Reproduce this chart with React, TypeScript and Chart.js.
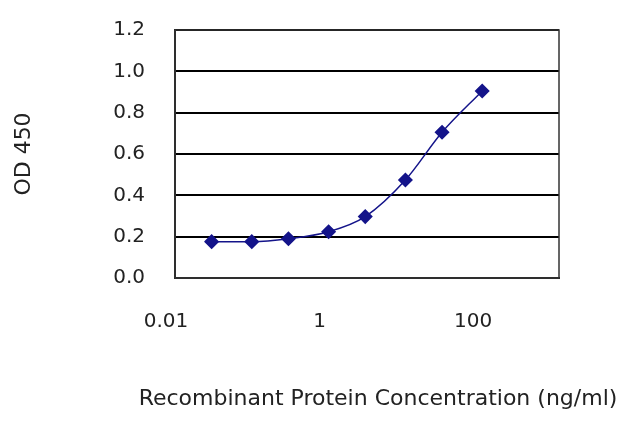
import { useEffect, useRef } from "react"
import { Chart, registerables } from "chart.js"

Chart.register(...registerables)

// concentration (ng/ml) and OD 450 readings
const concentrations = [0.03, 0.1, 0.3, 1, 3, 10, 30, 100]
const odValues = [0.176, 0.176, 0.19, 0.224, 0.297, 0.474, 0.705, 0.905]
const xTickValues = [0.01, 1, 100]
const yTitle = "OD 450"
const xTitle = "Recombinant Protein Concentration (ng/ml)"

const font = "DejaVu Sans"

// plot frame plus the x title, which is wider than the plot area
const frame = {
  id: "frame",
  afterDraw(chart: Chart) {
    const { ctx, chartArea } = chart
    ctx.save()
    ctx.strokeStyle = "#333"
    ctx.lineWidth = 1.5
    ctx.strokeRect(chartArea.left, chartArea.top, chartArea.right - chartArea.left, chartArea.bottom - chartArea.top)
    ctx.fillStyle = "#222"
    ctx.font = `22px "${font}"`
    ctx.textAlign = "center"
    ctx.textBaseline = "middle"
    ctx.fillText(xTitle, (chartArea.left + chartArea.right) / 2 + 11, chartArea.bottom + 121)
    ctx.restore()
  },
}

export default function App() {
  const chartRef = useRef<HTMLCanvasElement | null>(null)
  const chartInstance = useRef<Chart | null>(null)

  useEffect(() => {
    document.body.style.margin = "0"
    if (!chartRef.current) return
    const ctx = chartRef.current.getContext("2d")
    if (!ctx) return

    chartInstance.current = new Chart(ctx, {
      type: "line",
      data: {
        datasets: [
          {
            data: concentrations.map((c, i) => ({ x: c, y: odValues[i] })),
            borderColor: "#14148a",
            backgroundColor: "#14148a",
            borderWidth: 1.5,
            pointStyle: "rectRot",
            pointRadius: 6.5,
            cubicInterpolationMode: "monotone",
          },
        ],
      },
      plugins: [frame],
      options: {
        animation: false,
        responsive: false,
        layout: { padding: { top: 30, right: 81, left: 0, bottom: 0 } },
        plugins: { legend: { display: false }, tooltip: { enabled: false } },
        scales: {
          x: {
            type: "logarithmic",
            min: 0.01,
            max: 1000,
            afterBuildTicks: (scale) => {
              scale.ticks = xTickValues.map((v) => ({ value: v }))
            },
            afterFit: (scale) => {
              scale.height = 149
              scale.paddingLeft = 0
              scale.paddingRight = 0
            },
            grid: { display: false, drawTicks: false },
            border: { color: "#222", width: 2 },
            ticks: {
              color: "#222",
              padding: 32,
              labelOffset: -9,
              maxRotation: 0,
              autoSkip: false,
              font: { family: font, size: 20 },
              callback: (v) => String(v),
            },
          },
          y: {
            min: 0,
            max: 1.2,
            afterFit: (scale) => {
              scale.width = 175
              scale.paddingTop = 0
              scale.paddingBottom = 0
            },
            grid: { color: "#000", lineWidth: 2, drawTicks: false },
            border: { color: "#222", width: 2 },
            ticks: {
              stepSize: 0.2,
              color: "#222",
              padding: 30,
              font: { family: font, size: 20 },
              callback: (v) => Number(v).toFixed(1),
            },
            title: {
              display: true,
              text: yTitle,
              color: "#222",
              padding: { top: 11, bottom: 0 },
              font: { family: font, size: 22 },
            },
          },
        },
      },
    })

    return () => {
      if (chartInstance.current) {
        chartInstance.current.destroy()
      }
    }
  }, [])

  return (
    <div style={{ width: 640, height: 427, background: "#fff" }}>
      <canvas ref={chartRef} width={640} height={427} />
    </div>
  )
}
